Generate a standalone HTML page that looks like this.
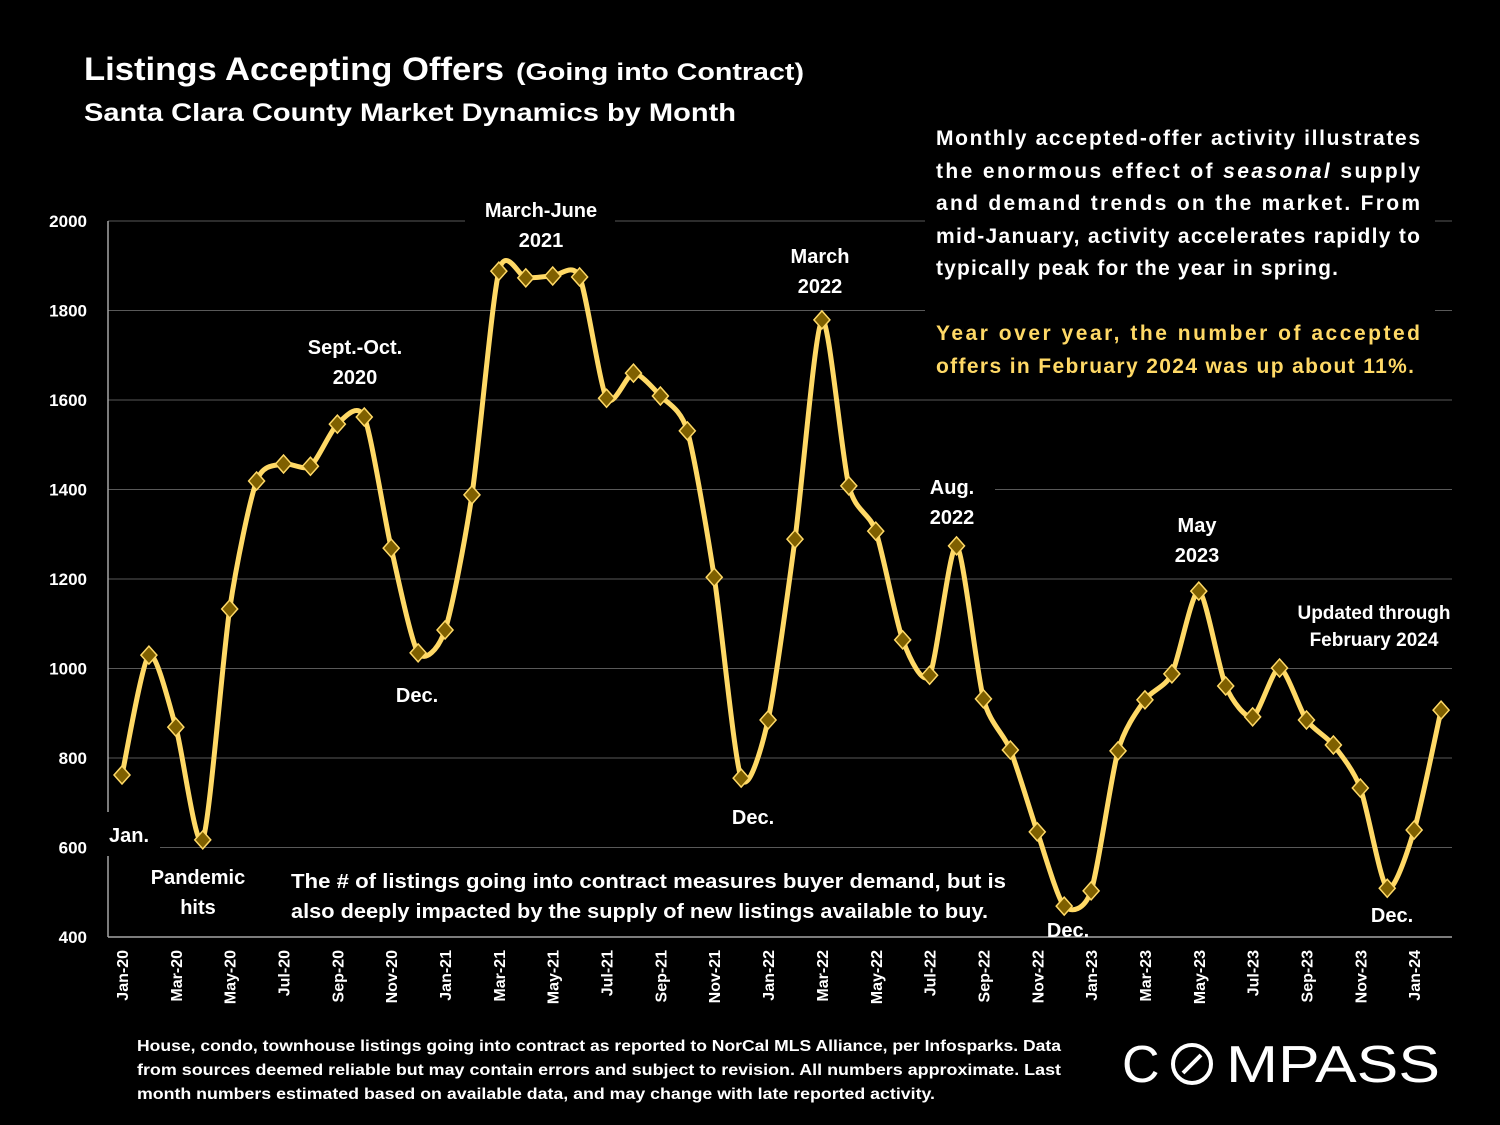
<!DOCTYPE html>
<html><head><meta charset="utf-8"><style>
html,body{margin:0;padding:0;background:#000;}
svg{display:block;font-family:"Liberation Sans",sans-serif;}
</style></head><body>
<svg id="chart" width="1500" height="1125" viewBox="0 0 1500 1125">
<rect width="1500" height="1125" fill="#000"/>
<g id="grid"></g>
<g id="yticks"></g>
<g id="xticks"></g>
<g fill="#000">
<rect x="925" y="118" width="510" height="265"/>
<rect x="275" y="865" width="740" height="60"/>
<rect x="100" y="812" width="60" height="44"/>
<rect x="465" y="195" width="150" height="62"/>
<rect x="290" y="330" width="130" height="62"/>
<rect x="780" y="240" width="80" height="62"/>
<rect x="920" y="472" width="75" height="62"/>
<rect x="1285" y="598" width="180" height="58"/>
</g>
<path id="line" fill="none" stroke="#FFD966" stroke-width="5"/>
<g id="points"></g>
<g fill="#fff" font-weight="bold">
<text x="84" y="80" font-size="32" textLength="420" lengthAdjust="spacingAndGlyphs">Listings Accepting Offers</text>
<text x="516" y="80" font-size="24" textLength="288" lengthAdjust="spacingAndGlyphs">(Going into Contract)</text>
<text x="84" y="121" font-size="25" textLength="652" lengthAdjust="spacingAndGlyphs">Santa Clara County Market Dynamics by Month</text>
<g font-size="21" lengthAdjust="spacing">
<text x="936" y="145" textLength="484">Monthly accepted-offer activity illustrates</text>
<text x="936" y="178" textLength="484">the enormous effect of <tspan font-style="italic">seasonal</tspan> supply</text>
<text x="936" y="210" textLength="484">and demand trends on the market.  From</text>
<text x="936" y="243" textLength="484">mid-January, activity accelerates rapidly to</text>
<text x="936" y="275" textLength="402">typically peak for the year in spring.</text>
<text x="936" y="340" textLength="484" fill="#FFD966">Year over year, the number of accepted</text>
<text x="936" y="373" textLength="478" fill="#FFD966">offers in February 2024 was up about 11%.</text>
</g>
<g font-size="20" text-anchor="middle">
<text x="541" y="217">March-June</text><text x="541" y="247">2021</text>
<text x="355" y="354">Sept.-Oct.</text><text x="355" y="384">2020</text>
<text x="820" y="263">March</text><text x="820" y="293">2022</text>
<text x="952" y="494">Aug.</text><text x="952" y="524">2022</text>
<text x="1197" y="532">May</text><text x="1197" y="562">2023</text>
<text x="1374" y="619" font-size="19">Updated through</text><text x="1374" y="646" font-size="19">February 2024</text>
<text x="129" y="842">Jan.</text>
<text x="198" y="884">Pandemic</text><text x="198" y="914">hits</text>
<text x="417" y="702">Dec.</text>
<text x="753" y="824">Dec.</text>
<text x="1068" y="937">Dec.</text>
<text x="1392" y="922">Dec.</text>
</g>
<g font-size="20">
<text x="291" y="888" textLength="715" lengthAdjust="spacingAndGlyphs">The # of listings going into contract measures buyer demand, but is</text>
<text x="291" y="918" textLength="697" lengthAdjust="spacingAndGlyphs">also deeply impacted by the supply of new listings available to buy.</text>
</g>
<g font-size="16" lengthAdjust="spacingAndGlyphs">
<text x="137" y="1051" textLength="924" lengthAdjust="spacingAndGlyphs">House, condo, townhouse listings going into contract as reported to NorCal MLS Alliance, per Infosparks. Data</text>
<text x="137" y="1075" textLength="924" lengthAdjust="spacingAndGlyphs">from sources deemed reliable but may contain errors and subject to revision. All numbers approximate. Last</text>
<text x="137" y="1099" textLength="798" lengthAdjust="spacingAndGlyphs">month numbers estimated based on available data, and may change with late reported activity.</text>
</g>
</g>
<g fill="#fff">
<text x="1122" y="1082" font-size="52">C</text>
<circle cx="1192" cy="1064" r="19" fill="none" stroke="#fff" stroke-width="4"/>
<line x1="1183" y1="1073" x2="1201" y2="1055" stroke="#fff" stroke-width="4"/>
<text x="1226" y="1082" font-size="52" textLength="214" lengthAdjust="spacingAndGlyphs">MPASS</text>
</g>
</svg>
<script>
const categories=["Jan-20","Feb-20","Mar-20","Apr-20","May-20","Jun-20","Jul-20","Aug-20","Sep-20","Oct-20","Nov-20","Dec-20","Jan-21","Feb-21","Mar-21","Apr-21","May-21","Jun-21","Jul-21","Aug-21","Sep-21","Oct-21","Nov-21","Dec-21","Jan-22","Feb-22","Mar-22","Apr-22","May-22","Jun-22","Jul-22","Aug-22","Sep-22","Oct-22","Nov-22","Dec-22","Jan-23","Feb-23","Mar-23","Apr-23","May-23","Jun-23","Jul-23","Aug-23","Sep-23","Oct-23","Nov-23","Dec-23","Jan-24","Feb-24"];
const values=[762,1030,869,617,1133,1419,1457,1452,1546,1562,1269,1035,1086,1388,1888,1873,1877,1875,1604,1660,1609,1531,1204,755,885,1289,1779,1408,1307,1064,985,1274,932,818,635,469,503,816,930,988,1173,961,892,1001,885,829,733,509,639,907];
const yTicks=[400,600,800,1000,1200,1400,1600,1800,2000];
const NS="http://www.w3.org/2000/svg";
const x0=122,dx=26.92,yBase=937,yScale=0.4475;
function xp(i){return x0+i*dx;}
function yp(v){return yBase-(v-400)*yScale;}
function mk(tag,attrs,parent){const e=document.createElementNS(NS,tag);for(const k in attrs)e.setAttribute(k,attrs[k]);parent.appendChild(e);return e;}
const grid=document.getElementById('grid'),yt=document.getElementById('yticks'),xt=document.getElementById('xticks');
yTicks.forEach(v=>{
 const l=mk('line',{x1:108,x2:1452,y1:yp(v),y2:yp(v),stroke:v===400?'#a6a6a6':'#595959','stroke-width':v===400?1.5:1},grid);
 
 
 const t=mk('text',{x:87,y:yp(v)+6,'text-anchor':'end',fill:'#fff','font-size':17,'font-weight':'bold'},yt);
 t.textContent=v;
 
 
});
const ax=mk('line',{x1:108,x2:108,y1:yp(2000),y2:yp(400),stroke:'#a6a6a6','stroke-width':1.5},grid);


categories.forEach((c,i)=>{
 if(i%2)return;
 const x=xp(i)+6,y=950;
 const t=mk('text',{x:x,y:y,transform:`rotate(-90 ${x} ${y})`,'text-anchor':'end',fill:'#fff','font-size':16,'font-weight':'bold'},xt);
 t.textContent=c;
 
 
});
const pts=values.map((v,i)=>[xp(i),yp(v)]);
let d=`M${pts[0][0]},${pts[0][1]}`;
for(let i=0;i<pts.length-1;i++){
 const p0=pts[Math.max(0,i-1)],p1=pts[i],p2=pts[i+1],p3=pts[Math.min(pts.length-1,i+2)];
 const t=8;
 d+=` C${p1[0]+(p2[0]-p0[0])/t},${p1[1]+(p2[1]-p0[1])/t} ${p2[0]-(p3[0]-p1[0])/t},${p2[1]-(p3[1]-p1[1])/t} ${p2[0]},${p2[1]}`;
}
document.getElementById('line').setAttribute('d',d);
const pg=document.getElementById('points');
pts.forEach(([x,y],i)=>{
 const p=mk('polygon',{points:`${x},${y-9} ${x+8},${y} ${x},${y+9} ${x-8},${y}`,fill:'#7F6000',stroke:'#FFD966','stroke-width':1.5},pg);
 
 
});
</script>
</body></html>
